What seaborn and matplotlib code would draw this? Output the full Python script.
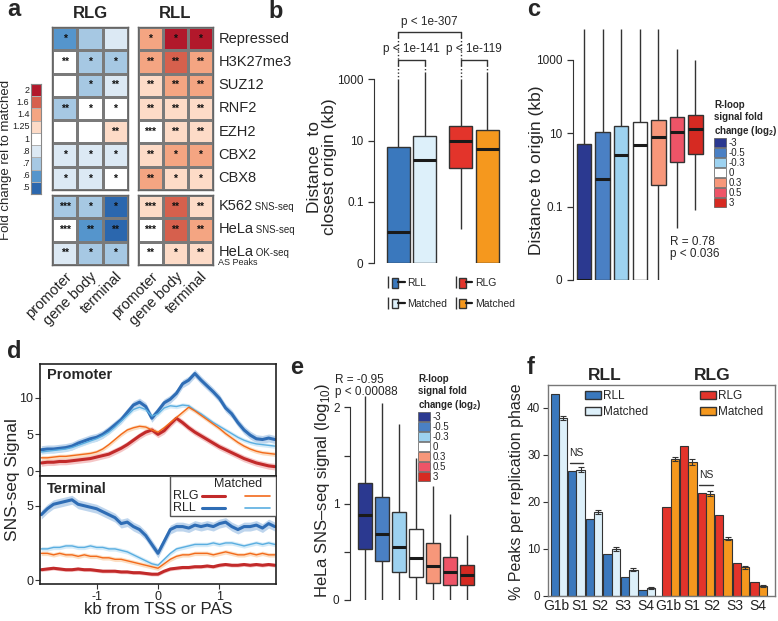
import numpy as np
import pandas as pd
import matplotlib
matplotlib.use("Agg")
import matplotlib.pyplot as plt
import seaborn as sns
from matplotlib.colors import ListedColormap, BoundaryNorm
from matplotlib.patches import Patch, Rectangle
from matplotlib.lines import Line2D
from matplotlib.legend_handler import HandlerTuple
from matplotlib.transforms import blended_transform_factory
from matplotlib.ticker import NullLocator

# ======================= DATA =======================
# ---- (a) heatmap: fold change relative to matched ----
mark_rows = ["Repressed", "H3K27me3", "SUZ12", "RNF2", "EZH2", "CBX2", "CBX8"]
origin_rows = ["K562", "HeLa", "HeLa"]
origin_methods = ["SNS-seq", "SNS-seq", "OK-seq"]
regions = ["promoter", "gene body", "terminal"]
rlg_mark_fc = [[.6, .7, .8], [1, .7, .7], [1, .7, .8], [.7, 1, 1],
               [1, 1, 1.25], [.8, .8, .8], [.8, .8, 1]]
rlg_origin_fc = [[.7, .7, .5], [1, .6, .5], [.8, .7, .7]]
rll_mark_fc = [[1.4, 2, 2], [1.4, 1.6, 1.4], [1.25, 1.4, 1.4], [1.25, 1.25, 1.25],
               [1, 1.25, 1.25], [1.25, 1.4, 1.4], [1.4, 1.25, 1.25]]
rll_origin_fc = [[1.25, 1.6, 1.25], [1, 1.6, 1.4], [1, 1.25, 1.25]]
rlg_mark_sig = [["*", "", ""], ["**", "*", "*"], ["", "*", "**"], ["**", "*", "*"],
                ["", "", "**"], ["*", "*", "*"], ["*", "*", "*"]]
rlg_origin_sig = [["***", "*", "*"], ["***", "**", "**"], ["**", "*", "*"]]
rll_mark_sig = [["*", "*", "*"], ["**", "**", "**"], ["**", "**", "**"], ["**", "**", "**"],
                ["***", "**", "**"], ["**", "*", "*"], ["**", "*", "*"]]
rll_origin_sig = [["***", "**", "**"], ["***", "**", "**"], ["**", "*", "**"]]
fc_levels = [2, 1.6, 1.4, 1.25, 1, .8, .7, .6, .5]
fc_labels = ["2", "1.6", "1.4", "1.25", "1", ".8", ".7", ".6", ".5"]

# ---- (b) distance to closest origin (kb): whisker-low, q1, median, q3, whisker-high ----
b_groups = ["RLL", "RLL", "RLG", "RLG"]
b_kinds = ["R-loop", "Matched", "R-loop", "Matched"]
b_rll = [0.001, 0.001, 0.01, 6.1, 1000]
b_rll_matched = [0.001, 0.001, 2.3, 14.2, 1770]
b_rlg = [0.0126, 1.25, 10, 28.8, 1000]
b_rlg_matched = [0.001, 0.001, 5.2, 22.4, 1770]

# ---- (c) distance to origin by R-loop fold change bin ----
c_bins = ["-3", "-0.5", "-0.3", "0", "0.3", "0.5", "3"]
c_m3 = [0.001, 0.001, 0.001, 5.2, 7000]
c_m05 = [0.001, 0.001, 0.57, 10.8, 7000]
c_m03 = [0.001, 0.001, 2.6, 15.4, 7000]
c_0 = [0.001, 0.001, 4.9, 20.4, 7000]
c_p03 = [0.001, 0.38, 7.7, 23.6, 7000]
c_p05 = [0.027, 1.7, 11.0, 28.6, 1940]
c_p3 = [0.081, 2.8, 13.5, 32.6, 1000]

# ---- (d) SNS-seq metaprofiles ----
kb_pos = np.round(np.arange(-19, 20) / 10, 1)
prom_rll = [2.9, 3.0, 3.0, 3.1, 3.2, 3.4, 3.8, 4.1, 4.4, 4.6, 5.0, 5.6, 6.3, 7.0, 8.0, 9.0, 9.4, 8.8, 7.2,
            8.2, 9.3, 9.8, 10.6, 11.9, 12.4, 13.3, 12.4, 11.6, 10.8, 9.9, 8.6, 7.8, 6.6, 5.6, 4.9, 4.4, 4.3, 4.5, 4.3]
prom_rll_matched = [2.6, 2.7, 2.8, 2.9, 3.0, 3.2, 3.5, 3.8, 4.1, 4.4, 4.8, 5.3, 6.0, 6.8, 7.6, 8.4, 8.7, 8.4, 7.5,
                    7.8, 8.6, 8.9, 8.8, 9.0, 8.9, 8.3, 7.8, 7.2, 6.6, 6.1, 5.6, 5.1, 4.6, 4.2, 3.9, 3.7, 3.6, 3.5, 3.4]
prom_rlg = [1.1, 1.2, 1.2, 1.3, 1.3, 1.4, 1.5, 1.6, 1.7, 1.9, 2.1, 2.3, 2.7, 3.1, 3.6, 4.2, 4.8, 5.3, 5.6,
            5.0, 5.5, 6.4, 7.2, 6.6, 5.9, 5.3, 4.8, 4.3, 3.8, 3.3, 2.9, 2.5, 2.1, 1.7, 1.4, 1.1, 0.9, 0.7, 0.6]
prom_rlg_matched = [1.8, 1.8, 1.9, 2.0, 2.0, 2.1, 2.2, 2.3, 2.4, 2.6, 3.0, 3.6, 4.3, 5.0, 5.6, 5.9, 6.1, 6.0, 5.6,
                    5.3, 5.9, 6.6, 7.3, 8.0, 8.7, 8.2, 7.6, 7.0, 6.4, 5.8, 5.1, 4.5, 3.9, 3.4, 3.0, 2.7, 2.5, 2.4, 2.3]
term_rll = [4.4, 4.8, 5.1, 5.2, 5.3, 5.4, 5.1, 5.0, 4.9, 4.8, 4.6, 4.4, 4.2, 3.8, 3.9, 3.6, 3.4, 3.0, 2.4,
            1.8, 2.6, 3.4, 3.6, 3.6, 3.5, 3.7, 3.6, 3.7, 3.6, 3.8, 3.9, 3.6, 3.4, 3.6, 3.6, 3.7, 3.5, 3.8, 3.6]
term_rll_matched = [2.1, 2.1, 2.2, 2.2, 2.3, 2.3, 2.2, 2.2, 2.3, 2.2, 2.2, 2.1, 2.1, 2.0, 1.9, 1.7, 1.5, 1.3, 1.1,
                    1.0, 1.4, 1.8, 2.1, 2.2, 2.3, 2.4, 2.4, 2.4, 2.5, 2.4, 2.5, 2.5, 2.4, 2.3, 2.4, 2.5, 2.4, 2.5, 2.4]
term_rlg = [0.7, 0.75, 0.8, 0.75, 0.7, 0.7, 0.75, 0.7, 0.7, 0.65, 0.6, 0.6, 0.6, 0.55, 0.55, 0.5, 0.5, 0.45, 0.4,
            0.4, 0.6, 0.75, 0.8, 0.85, 0.85, 0.9, 0.9, 0.95, 0.9, 1.0, 1.05, 1.0, 1.0, 1.05, 1.0, 1.05, 1.0, 1.05, 1.0]
term_rlg_matched = [1.8, 1.8, 1.7, 1.8, 1.7, 1.7, 1.6, 1.7, 1.6, 1.6, 1.5, 1.5, 1.4, 1.4, 1.3, 1.2, 1.1, 1.0, 0.9,
                    0.8, 1.1, 1.4, 1.6, 1.7, 1.7, 1.8, 1.8, 1.8, 1.7, 1.8, 1.9, 1.8, 1.7, 1.7, 1.8, 1.7, 1.8, 1.7, 1.7]
prom_band = [0.55, 0.3, 0.45, 0.3]   # rll, rll matched, rlg, rlg matched
term_band = [0.3, 0.15, 0.12, 0.15]

# ---- (e) HeLa SNS-seq signal (log10) by R-loop fold change bin ----
e_m3 = [0, 0.53, 0.88, 1.22, 2.12]
e_m05 = [0, 0.40, 0.69, 1.07, 2.05]
e_m03 = [0, 0.29, 0.55, 0.91, 1.83]
e_0 = [0, 0.24, 0.44, 0.74, 1.48]
e_p03 = [0, 0.18, 0.35, 0.59, 1.18]
e_p05 = [0, 0.16, 0.29, 0.45, 0.89]
e_p3 = [0, 0.16, 0.26, 0.36, 0.67]

# ---- (f) % peaks per replication phase ----
phase_ticklabels = ["G1b", "S1", "S2", "S3", "S4"]
rll_pct = [42.9, 26.5, 16.4, 8.9, 4.0, 1.3]
rll_matched_pct = [37.8, 26.8, 17.9, 9.9, 5.6, 1.7]
rll_matched_err = [0.4, 0.5, 0.4, 0.4, 0.3, 0.2]
rlg_pct = [18.9, 31.8, 21.8, 17.1, 7.0, 3.0]
rlg_matched_pct = [29.1, 28.4, 21.7, 12.2, 6.1, 2.1]
rlg_matched_err = [0.5, 0.6, 0.5, 0.4, 0.3, 0.2]

# ======================= STYLE =======================
sns.set_style("ticks")
plt.rcParams["font.family"] = ["Liberation Sans", "DejaVu Sans"]
plt.rcParams["mathtext.fontset"] = "custom"
plt.rcParams["mathtext.rm"] = "Liberation Sans"
plt.rcParams["mathtext.bf"] = "Liberation Sans:bold"
plt.rcParams["axes.edgecolor"] = "#333333"
plt.rcParams["xtick.color"] = "#333333"
plt.rcParams["ytick.color"] = "#333333"
plt.rcParams["xtick.labelcolor"] = "#222222"
plt.rcParams["ytick.labelcolor"] = "#222222"

fc_colors = ["#B2182B", "#D6604D", "#F4A582", "#FDDBC7", "#FFFFFF",
             "#DCE9F4", "#A6C8E3", "#5595CC", "#2B67AE"]
c_colors = ["#2B3990", "#4A80C4", "#9DD2F0", "#FFFFFF", "#F7977A", "#EE5467", "#D62A22"]
col_rll, col_rll_m = "#3A78BD", "#DDF0FA"
col_rlg, col_rlg_m = "#E3342B", "#F5981E"

W, H = 778, 621
fig = plt.figure(figsize=(W / 100, H / 100), dpi=100)


def add_ax(x0, y0, x1, y1):
    return fig.add_axes([x0 / W, 1 - y1 / H, (x1 - x0) / W, (y1 - y0) / H])


def ftext(x, y, s, **kw):
    return fig.text(x / W, 1 - y / H, s, **kw)


def fy(y):
    return 1 - y / H


for lab, (x, y) in zip("abcdef", [(7, 10), (268, 12), (527, 10), (7, 352), (290, 368), (527, 368)]):
    ftext(x, y, lab, fontsize=17, fontweight="bold", va="center", ha="left")

# ======================= (a) =======================
asc_levels = fc_levels[::-1]
asc_colors = fc_colors[::-1]
bounds = [0.4] + [(p + q) / 2 for p, q in zip(asc_levels[:-1], asc_levels[1:])] + [2.6]
hm_cmap = ListedColormap(asc_colors)
hm_norm = BoundaryNorm(bounds, hm_cmap.N)


def heat(ax, vals, sig, xlabels):
    sns.heatmap(np.array(vals, dtype=float), ax=ax, cmap=hm_cmap, norm=hm_norm, cbar=False,
                annot=np.array(sig, dtype=object), fmt="",
                annot_kws={"fontsize": 7.5, "color": "#111111", "fontweight": "bold"},
                linewidths=0.8, linecolor="#7a7a7a",
                xticklabels=xlabels, yticklabels=False)
    for s in ax.spines.values():
        s.set_visible(True)
        s.set_color("#666666")
        s.set_linewidth(1)
    ax.tick_params(length=0)
    if xlabels is not False:
        ax.set_xticklabels(xlabels, rotation=45, ha="right", rotation_mode="anchor", fontsize=10.5)
        ax.tick_params(axis="x", pad=3)


ax_a1 = add_ax(52, 27, 128, 190)
heat(ax_a1, rlg_mark_fc, rlg_mark_sig, False)
ax_a2 = add_ax(52, 195, 128, 265)
heat(ax_a2, rlg_origin_fc, rlg_origin_sig, regions)
ax_a3 = add_ax(138, 27, 213, 190)
heat(ax_a3, rll_mark_fc, rll_mark_sig, False)
ax_a4 = add_ax(138, 195, 213, 265)
heat(ax_a4, rll_origin_fc, rll_origin_sig, regions)

ftext(90, 13, "RLG", fontsize=12, fontweight="bold", ha="center", va="center")
ftext(175, 13, "RLL", fontsize=12, fontweight="bold", ha="center", va="center")

tr3 = blended_transform_factory(ax_a3.transAxes, ax_a3.transData)
for i, name in enumerate(mark_rows):
    ax_a3.text(1.07, i + 0.5, name, transform=tr3, fontsize=10.5, va="center", ha="left")
tr4 = blended_transform_factory(ax_a4.transAxes, ax_a4.transData)
for i, (name, meth) in enumerate(zip(origin_rows, origin_methods)):
    t = ax_a4.text(1.07, i + 0.45, name, transform=tr4, fontsize=10.5, va="center", ha="left")
    ax_a4.annotate(" " + meth, xy=(1, 0.05), xycoords=t, fontsize=7, va="bottom", ha="left")
    if meth == "OK-seq":
        ax_a4.annotate("AS Peaks", xy=(0, 0.1), xycoords=t, fontsize=6.5, va="top", ha="left")

ax_cb = add_ax(31, 84, 41, 194)
sns.heatmap(np.array(fc_levels, dtype=float)[:, None], ax=ax_cb, cmap=hm_cmap, norm=hm_norm, cbar=False,
            linewidths=0.4, linecolor="#b0b0b0", xticklabels=False, yticklabels=fc_labels)
ax_cb.tick_params(axis="y", length=0, pad=1.2, labelsize=6.5, rotation=0)
for s in ax_cb.spines.values():
    s.set_visible(True)
    s.set_color("#888888")
    s.set_linewidth(0.8)
ftext(6, 160, "Fold change rel to matched", rotation=90, fontsize=9.5, ha="center", va="center")

# ======================= (b) =======================
ax_b = add_ax(374, 60, 509, 263)
rows = []
for g, k, s in zip(b_groups, b_kinds, [b_rll, b_rll_matched, b_rlg, b_rlg_matched]):
    for v in s:
        rows.append((g, k, v))
df_b = pd.DataFrame(rows, columns=["group", "kind", "kb"])
box_kw = dict(whis=(0, 100), showcaps=False, saturation=1, linewidth=1, linecolor="#333333",
              medianprops=dict(color="#1a1a1a", linewidth=2.2), legend=False)
for g, pal in (("RLL", [col_rll, col_rll_m]), ("RLG", [col_rlg, col_rlg_m])):
    sns.boxplot(data=df_b[df_b.group == g], x="group", y="kb", hue="kind", order=["RLL", "RLG"],
                hue_order=["R-loop", "Matched"], palette=pal, dodge=True, width=0.86, gap=0.14,
                log_scale=True, ax=ax_b, **box_kw)
ax_b.set_xlim(-0.6, 1.56)
ax_b.set_ylim(0.001, 10 ** (3 + (79.3 - 60) / 30.6))
ax_b.set_yticks([0.001, 0.1, 10, 1000])
ax_b.set_yticklabels(["0", "0.1", "10", "1000"])
ax_b.yaxis.set_minor_locator(NullLocator())
ax_b.tick_params(axis="y", labelsize=8.5, length=4, width=0.9)
ax_b.set_xticks([])
ax_b.set(xlabel="", ylabel="")
sns.despine(ax=ax_b, bottom=True)
ax_b.spines["left"].set_bounds(0.001, 1000)
ftext(322, 167, "Distance  to\nclosest origin (kb)", rotation=90, fontsize=12.5,
      ha="center", va="center", multialignment="center", linespacing=1.05)

bt = blended_transform_factory(ax_b.transData, fig.transFigure)
lkw = dict(color="#333333", lw=1, transform=bt, clip_on=False)
dkw = dict(color="#333333", lw=1, ls=(0, (1, 1.5)), transform=bt, clip_on=False)
for xa, xb in ((-0.215, 0.215), (0.785, 1.215)):
    ax_b.add_line(Line2D([xa, xb], [fy(60), fy(60)], **lkw))
    ax_b.add_line(Line2D([xa, xa], [fy(60), fy(65)], **lkw))
    ax_b.add_line(Line2D([xb, xb], [fy(60), fy(65)], **lkw))
    ax_b.add_line(Line2D([xa, xa], [fy(65), fy(79)], **dkw))
    ax_b.add_line(Line2D([xb, xb], [fy(65), fy(72)], **dkw))
ax_b.add_line(Line2D([-0.215, 0.785], [fy(32), fy(32)], **lkw))
for xx in (-0.215, 0.785):
    ax_b.add_line(Line2D([xx, xx], [fy(32), fy(37)], **lkw))
    ax_b.add_line(Line2D([xx, xx], [fy(37), fy(60)], **dkw))
ax_b.text(0, fy(49), "p < 1e-141", transform=bt, ha="center", va="center", fontsize=8.5)
ax_b.text(1, fy(49), "p < 1e-119", transform=bt, ha="center", va="center", fontsize=8.5)
ax_b.text(0.285, fy(22), "p < 1e-307", transform=bt, ha="center", va="center", fontsize=8.5)

whisk = lambda: Line2D([], [], color="#333333", marker="|", markersize=9, markeredgewidth=1, linestyle="none")
medl = lambda: Line2D([], [], color="#1a1a1a", lw=1.6)
b_handles = [(whisk(), Patch(facecolor=c, edgecolor="#333333", lw=1), medl())
             for c in (col_rll, col_rll_m, col_rlg, col_rlg_m)]
fig.legend(b_handles, ["RLL", "Matched", "RLG", "Matched"], ncol=2, loc="upper left",
           bbox_to_anchor=(385 / W, fy(278)), frameon=False, fontsize=7.5,
           handler_map={tuple: HandlerTuple(ndivide=None)}, handlelength=1.9, handleheight=1.05,
           labelspacing=1.0, columnspacing=0.5, handletextpad=0.25, borderpad=0, borderaxespad=0)

# ======================= (c) =======================
ax_c = add_ax(573, 28, 706, 280)
rows = []
for b, s in zip(c_bins, [c_m3, c_m05, c_m03, c_0, c_p03, c_p05, c_p3]):
    for v in s:
        rows.append((b, v))
df_c = pd.DataFrame(rows, columns=["bin", "kb"])
sns.boxplot(data=df_c, x="bin", y="kb", hue="bin", order=c_bins, hue_order=c_bins, palette=c_colors,
            width=0.78, log_scale=True, ax=ax_c, **box_kw)
ax_c.set_xlim(-0.6, 6.57)
c_dec = (280 - 60) / 6.0
ax_c.set_ylim(0.001, 10 ** (3 + (60 - 28) / c_dec))
ax_c.set_yticks([0.001, 0.1, 10, 1000])
ax_c.set_yticklabels(["0", "0.1", "10", "1000"])
ax_c.yaxis.set_minor_locator(NullLocator())
ax_c.tick_params(axis="y", labelsize=8.5, length=4, width=0.9)
ax_c.set_xticks([])
ax_c.set(xlabel="", ylabel="")
sns.despine(ax=ax_c, bottom=True)
ax_c.spines["left"].set_bounds(0.001, 1000)
ftext(537, 170, "Distance to origin (kb)", rotation=90, fontsize=12.5, ha="center", va="center")
ftext(670, 248, "R = 0.78\np < 0.036", fontsize=8.5, ha="left", va="center", linespacing=1.1)

leg_title = "R-loop\nsignal fold\nchange (log$_\\mathbf{2}$)"


def bin_legend(x, y):
    hs = [Patch(facecolor=c, edgecolor="#555555", lw=0.5) for c in c_colors]
    fig.legend(hs, c_bins, loc="upper left", bbox_to_anchor=(x / W, fy(y)), frameon=False,
               fontsize=7, title=leg_title, title_fontproperties={"weight": "bold", "size": 7},
               alignment="left", handlelength=1.2, handleheight=1.1, labelspacing=0,
               handletextpad=0.3, borderpad=0, borderaxespad=0)


bin_legend(714, 100)

# ======================= (d) =======================
ax_dp = add_ax(40, 364, 276, 476)
ax_dt = add_ax(40, 476, 276, 584)
d_cols = ["#2F6DB5", "#5AAEE0", "#C22A2A", "#F26A1B"]
d_band = ["#A9C8E8", "#C8E5F6", "#F2B3B3", "#FBD3AE"]
d_lw = [2.2, 1.0, 2.2, 1.0]
for ax, series, bands in ((ax_dp, [prom_rll, prom_rll_matched, prom_rlg, prom_rlg_matched], prom_band),
                          (ax_dt, [term_rll, term_rll_matched, term_rlg, term_rlg_matched], term_band)):
    for vals, hw, bc in zip(series, bands, d_band):
        v = np.array(vals)
        ax.fill_between(kb_pos, v - hw, v + hw, color=bc, alpha=0.75, lw=0)
    for vals, c, lw in zip(series, d_cols, d_lw):
        sns.lineplot(x=kb_pos, y=vals, ax=ax, color=c, linewidth=lw, errorbar=None)
    ax.set_xlim(-1.92, 1.92)
    for s in ax.spines.values():
        s.set_visible(True)
        s.set_color("#222222")
        s.set_linewidth(1.2)
    ax.tick_params(labelsize=9, length=3.5, pad=1.5)
ax_dp.set_ylim(-0.68, 14.6)
ax_dp.set_yticks([0, 5, 10])
ax_dp.set_xticks([])
ax_dt.set_ylim(-0.26, 7.0)
ax_dt.set_yticks([0, 5])
ax_dt.set_xticks([-1, 0, 1])
ax_dt.set_xticklabels(["-1", "0", "1"])
ax_dp.text(0.03, 0.9, "Promoter", transform=ax_dp.transAxes, fontsize=10.5, fontweight="bold", va="center")
ax_dt.text(0.03, 0.88, "Terminal", transform=ax_dt.transAxes, fontsize=10.5, fontweight="bold", va="center")
ftext(158, 610, "kb from TSS or PAS", fontsize=12, ha="center", va="center")
ftext(13, 480, "SNS-seq Signal", rotation=90, fontsize=12.5, ha="center", va="center")
# legend box (d)
ax_dt.add_patch(Rectangle((0.55, 0.63), 0.45, 0.37, transform=ax_dt.transAxes, facecolor="white",
                          edgecolor="#555555", lw=1, zorder=5))
ax_dt.text(0.84, 0.925, "Matched", transform=ax_dt.transAxes, fontsize=9, ha="center", va="center", zorder=6)
for yy, name, c1, c2 in ((0.815, "RLG", d_cols[2], d_cols[3]), (0.70, "RLL", d_cols[0], d_cols[1])):
    ax_dt.text(0.565, yy, name, transform=ax_dt.transAxes, fontsize=9, va="center", zorder=6)
    ax_dt.add_line(Line2D([0.685, 0.785], [yy, yy], transform=ax_dt.transAxes, color=c1, lw=2.2, zorder=6))
    ax_dt.add_line(Line2D([0.87, 0.975], [yy, yy], transform=ax_dt.transAxes, color=c2, lw=1.2, zorder=6))

# ======================= (e) =======================
ax_e = add_ax(350, 385, 477, 600)
rows = []
for b, s in zip(c_bins, [e_m3, e_m05, e_m03, e_0, e_p03, e_p05, e_p3]):
    for v in s:
        rows.append((b, v))
df_e = pd.DataFrame(rows, columns=["bin", "signal"])
sns.boxplot(data=df_e, x="bin", y="signal", hue="bin", order=c_bins, hue_order=c_bins, palette=c_colors,
            width=0.84, ax=ax_e, **box_kw)
ax_e.set_xlim(-0.9, 6.6)
ax_e.set_ylim(0, 2.233)
ax_e.set_yticks([0, 0.5, 1, 1.5, 2])
ax_e.set_yticklabels(["0", "", "1", "", "2"])
ax_e.tick_params(axis="y", labelsize=8.5, length=4, width=0.9)
ax_e.set_xticks([])
ax_e.set(xlabel="", ylabel="")
sns.despine(ax=ax_e, bottom=True)
ax_e.spines["left"].set_bounds(0, 2)
ftext(322, 490, "HeLa SNS\u2013seq signal (log$_{10}$)", rotation=90, fontsize=12, ha="center", va="center")
ftext(335, 386, "R = -0.95\np < 0.00088", fontsize=8.5, ha="left", va="center", linespacing=1.1)
bin_legend(418, 374)

# ======================= (f) =======================
ax_f = add_ax(548, 385, 775, 596)
rll_pos = np.arange(len(rll_pct), dtype=float)
rlg_pos = rll_pos + len(rll_pct) + 0.365
df_rll = pd.DataFrame({"pos": np.concatenate([rll_pos, rll_pos]),
                       "kind": ["RLL"] * 6 + ["Matched"] * 6,
                       "pct": rll_pct + rll_matched_pct})
df_rlg = pd.DataFrame({"pos": np.concatenate([rlg_pos, rlg_pos]),
                       "kind": ["RLG"] * 6 + ["Matched"] * 6,
                       "pct": rlg_pct + rlg_matched_pct})
bar_kw = dict(native_scale=True, dodge=True, width=0.95, gap=0, saturation=1, edgecolor="#333333",
              linewidth=0.8, errorbar=None, legend=False, ax=ax_f)
sns.barplot(data=df_rll, x="pos", y="pct", hue="kind", hue_order=["RLL", "Matched"],
            palette=[col_rll, col_rll_m], **bar_kw)
sns.barplot(data=df_rlg, x="pos", y="pct", hue="kind", hue_order=["RLG", "Matched"],
            palette=[col_rlg, col_rlg_m], **bar_kw)
ax_f.errorbar(rll_pos + 0.2375, rll_matched_pct, yerr=rll_matched_err, fmt="none", ecolor="#333333",
              elinewidth=0.8, capsize=2.2, capthick=0.8)
ax_f.errorbar(rlg_pos + 0.2375, rlg_matched_pct, yerr=rlg_matched_err, fmt="none", ecolor="#333333",
              elinewidth=0.8, capsize=2.2, capthick=0.8)
ax_f.set_xlim(-0.62, 12.3)
ax_f.set_ylim(0, 44.8)
ax_f.set_yticks([0, 10, 20, 30, 40])
lab_pos = [-0.12, 1.2, 2.35, 3.65, 4.95]
ax_f.set_xticks([p for p in lab_pos] + [p + rlg_pos[0] for p in lab_pos])
ax_f.set_xticklabels(phase_ticklabels * 2, fontsize=10)
ax_f.tick_params(axis="x", length=0, pad=2)
ax_f.tick_params(axis="y", labelsize=8.5, length=3.5, pad=2)
ax_f.set(xlabel="", ylabel="")
for s in ax_f.spines.values():
    s.set_visible(True)
    s.set_color("#777777")
    s.set_linewidth(1)
ftext(516, 492, "% Peaks per replication phase", rotation=90, fontsize=11.5, ha="center", va="center")
ftext(605, 376, "RLL", fontsize=12.5, fontweight="bold", ha="center", va="center")
ftext(712, 376, "RLG", fontsize=12.5, fontweight="bold", ha="center", va="center")
ax_f.plot([rll_pos[1] - 0.38, rll_pos[1] + 0.38], [28.3, 28.3], color="#333333", lw=1)
ax_f.text(rll_pos[1], 29.4, "NS", ha="center", va="bottom", fontsize=7.5)
ax_f.plot([rlg_pos[2] - 0.38, rlg_pos[2] + 0.38], [23.5, 23.5], color="#333333", lw=1)
ax_f.text(rlg_pos[2], 24.6, "NS", ha="center", va="bottom", fontsize=7.5)
f_leg_kw = dict(loc="upper left", frameon=False, fontsize=8.5, handlelength=1.35, handleheight=0.75,
                labelspacing=0.35, handletextpad=0.2, borderpad=0, borderaxespad=0)
fig.legend([Patch(facecolor=col_rll, edgecolor="#333333"), Patch(facecolor=col_rll_m, edgecolor="#333333")],
           ["RLL", "Matched"], bbox_to_anchor=(585 / W, fy(390)), **f_leg_kw)
fig.legend([Patch(facecolor=col_rlg, edgecolor="#333333"), Patch(facecolor=col_rlg_m, edgecolor="#333333")],
           ["RLG", "Matched"], bbox_to_anchor=(700 / W, fy(390)), **f_leg_kw)

fig.savefig("out.png", dpi=100)
